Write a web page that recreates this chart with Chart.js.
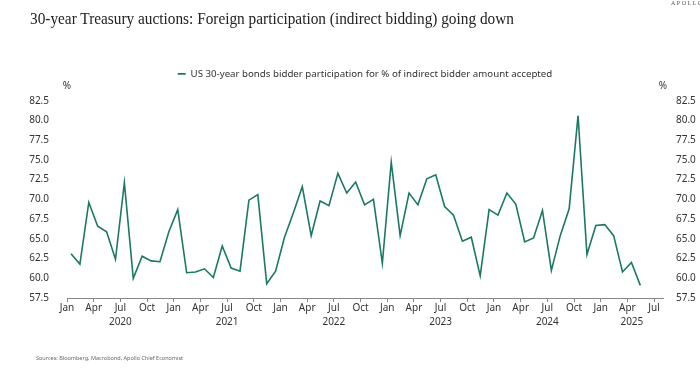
<!DOCTYPE html>
<html lang="en">
<head>
  <meta charset="UTF-8">
  <title>30-year Treasury auctions</title>
  <script src="https://cdn.jsdelivr.net/npm/chart.js"></script>
  <style>
    html, body {
      margin: 0;
      padding: 0;
      background: #fff;
      width: 700px;
      height: 377px;
      overflow: hidden;
    }
    #wrap {
      position: relative;
      width: 700px;
      height: 377px;
    }
    canvas {
      position: absolute;
      left: 0;
      top: 0;
    }
    .title {
      position: absolute;
      left: 30px;
      top: 8px;
      font-family: "Liberation Serif", serif;
      font-size: 17.5px;
      color: #222;
      white-space: nowrap;
      transform: scaleX(0.875);
      transform-origin: left top;
    }
    .logo {
      position: absolute;
      left: 671px;
      top: 0px;
      font-family: "Liberation Serif", serif;
      font-size: 6px;
      letter-spacing: 1.5px;
      color: #555;
    }
    .source {
      position: absolute;
      left: 36px;
      top: 354px;
      font-family: "Noto Sans", sans-serif;
      font-size: 5.5px;
      color: #666;
    }
  </style>
</head>
<body>
  <div id="wrap">
    <canvas id="chart" width="700" height="377"></canvas>
    <div class="title">30-year Treasury auctions: Foreign participation (indirect bidding) going down</div>
    <div class="logo">APOLLO</div>
    <div class="source">Sources: Bloomberg, Macrobond, Apollo Chief Economist</div>
  </div>

  <script>
    // Auction months, Jan 2020 - May 2025
    const months = [
      '2020-01','2020-02','2020-03','2020-04','2020-05','2020-06','2020-07','2020-08','2020-09','2020-10','2020-11','2020-12',
      '2021-01','2021-02','2021-03','2021-04','2021-05','2021-06','2021-07','2021-08','2021-09','2021-10','2021-11','2021-12',
      '2022-01','2022-02','2022-03','2022-04','2022-05','2022-06','2022-07','2022-08','2022-09','2022-10','2022-11','2022-12',
      '2023-01','2023-02','2023-03','2023-04','2023-05','2023-06','2023-07','2023-08','2023-09','2023-10','2023-11','2023-12',
      '2024-01','2024-02','2024-03','2024-04','2024-05','2024-06','2024-07','2024-08','2024-09','2024-10','2024-11','2024-12',
      '2025-01','2025-02','2025-03','2025-04','2025-05'
    ];

    // Indirect bidder share of amount accepted, %
    const indirectShare = [
      63.1, 61.8, 69.6, 66.6, 65.9, 62.4, 72.1, 60.0, 62.8, 62.2, 62.1, 65.9,
      68.7, 60.7, 60.8, 61.2, 60.1, 64.1, 61.3, 60.9, 69.9, 70.6, 59.3, 60.9,
      65.2, 68.3, 71.6, 65.4, 69.8, 69.2, 73.3, 70.8, 72.2, 69.3, 70.0, 61.9,
      74.7, 65.4, 70.8, 69.3, 72.6, 73.1, 69.1, 68.0, 64.7, 65.2, 60.3, 68.7,
      68.0, 70.8, 69.4, 64.6, 65.1, 68.6, 61.0, 65.4, 68.8, 80.6, 63.0, 66.7,
      66.8, 65.4, 60.8, 62.0, 59.1
    ];

    const seriesLabel = 'US 30-year bonds bidder participation for % of indirect bidder amount accepted';

    // Axis settings
    const startYear = 2020;
    const monthNames = ['Jan', 'Apr', 'Jul', 'Oct'];
    const xMax = 67;                 // end of Jul 2025, in months from Jan 2020
    const yTicks = [57.5, 60.0, 62.5, 65.0, 67.5, 70.0, 72.5, 75.0, 77.5, 80.0, 82.5];
    const years = [2020, 2021, 2022, 2023, 2024, 2025];

    const lineColor = '#1b7863';
    const textColor = '#333';
    const tickFont = { family: 'Noto Sans', size: 10 };

    // month index (from Jan 2020), auctions fall mid-month
    function monthIndex(s) {
      const [y, m] = s.split('-').map(Number);
      return (y - startYear) * 12 + (m - 1);
    }
    const points = months.map((m, i) => ({ x: monthIndex(m) + 0.45, y: indirectShare[i] }));
    const quarterTicks = [];
    for (let v = 0; v <= xMax; v += 3) quarterTicks.push(v);

    // a bit more room between legend and plot
    const legendGap = {
      id: 'legendGap',
      beforeInit(chart) {
        const fit = chart.legend.fit;
        chart.legend.fit = function () {
          fit.call(this);
          this.height += 12;
        };
      }
    };

    // "%" above the y axes and year labels under the x axis
    const extraLabels = {
      id: 'extraLabels',
      afterDraw(chart) {
        const ctx = chart.ctx;
        const area = chart.chartArea;
        const x = chart.scales.x;
        ctx.save();
        ctx.fillStyle = textColor;
        ctx.font = '10px "Noto Sans"';
        ctx.textAlign = 'center';
        ctx.textBaseline = 'middle';
        ctx.fillText('%', area.left, area.top - 15);
        ctx.fillText('%', area.right, area.top - 15);
        years.forEach(yr => {
          const from = Math.max(x.min, (yr - startYear) * 12);
          const to = Math.min(x.max, (yr - startYear + 1) * 12);
          ctx.fillText(String(yr), x.getPixelForValue((from + to) / 2), area.bottom + 24);
        });
        ctx.restore();
      }
    };

    const ctx = document.getElementById('chart').getContext('2d');
    new Chart(ctx, {
      type: 'line',
      data: {
        datasets: [{
          label: seriesLabel,
          data: points,
          borderColor: lineColor,
          backgroundColor: lineColor,
          borderWidth: 1.6,
          pointRadius: 0,
          tension: 0
        }]
      },
      options: {
        responsive: false,
        animation: false,
        layout: {
          padding: { top: 61, left: 0, right: 0, bottom: 40 }
        },
        plugins: {
          legend: {
            position: 'top',
            fullSize: false,
            labels: {
              usePointStyle: true,
              pointStyle: 'line',
              pointStyleWidth: 8,
              color: textColor,
              font: { family: 'Noto Sans', size: 9.7 },
              padding: 8
            }
          },
          tooltip: { enabled: false }
        },
        scales: {
          x: {
            type: 'linear',
            min: 0,
            max: xMax,
            afterBuildTicks: s => { s.ticks = quarterTicks.map(v => ({ value: v })); },
            afterFit: s => { s.height = 39; },
            ticks: {
              color: textColor,
              font: tickFont,
              padding: 0,
              maxRotation: 0,
              autoSkip: false,
              callback: v => monthNames[(v % 12) / 3]
            },
            grid: {
              drawOnChartArea: false,
              drawTicks: true,
              tickLength: 4,
              color: '#888'
            },
            border: { display: true, color: '#888', width: 1 }
          },
          y: {
            position: 'left',
            min: 57.5,
            max: 82.5,
            afterBuildTicks: s => { s.ticks = yTicks.map(v => ({ value: v })); },
            afterFit: s => { s.width = 67; },
            ticks: {
              color: textColor,
              font: tickFont,
              padding: 10,
              callback: v => v.toFixed(1)
            },
            grid: { display: false },
            border: { display: false }
          },
          y2: {
            position: 'right',
            min: 57.5,
            max: 82.5,
            afterBuildTicks: s => { s.ticks = yTicks.map(v => ({ value: v })); },
            afterFit: s => { s.width = 37; },
            ticks: {
              color: textColor,
              font: tickFont,
              padding: 5,
              callback: v => v.toFixed(1)
            },
            grid: { display: false },
            border: { display: false }
          }
        }
      },
      plugins: [legendGap, extraLabels]
    });
  </script>
</body>
</html>
